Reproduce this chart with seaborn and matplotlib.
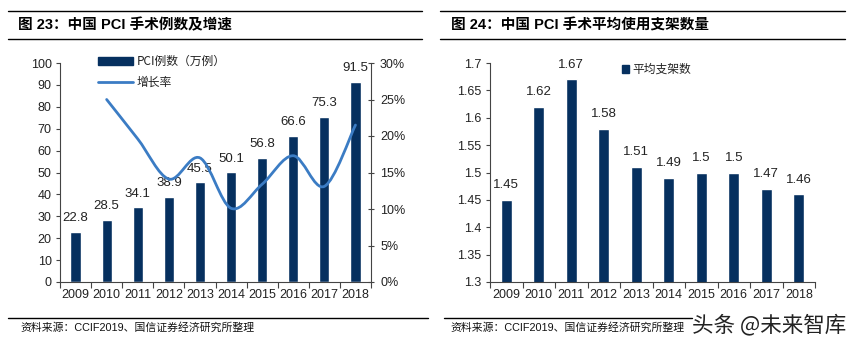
import numpy as np
import pandas as pd
import matplotlib
matplotlib.use("Agg")
import matplotlib.pyplot as plt
from matplotlib.path import Path
from matplotlib.patches import PathPatch, Patch
from matplotlib.lines import Line2D
from matplotlib.ticker import FixedLocator, FuncFormatter
import seaborn as sns

# ---- data ----
years = ["2009", "2010", "2011", "2012", "2013", "2014", "2015", "2016", "2017", "2018"]
pci_cases = [22.8, 28.5, 34.1, 38.9, 45.5, 50.1, 56.8, 66.6, 75.3, 91.5]      # 万例
growth_years = ["2010", "2011", "2012", "2013", "2014", "2015", "2016", "2017", "2018"]
growth_rate = [25.0, 19.6, 14.1, 17.0, 10.1, 13.4, 17.3, 13.1, 21.5]          # %
stents_per_case = [1.45, 1.62, 1.67, 1.58, 1.51, 1.49, 1.50, 1.50, 1.47, 1.46]

left_title = "图 23：中国 PCI 手术例数及增速"
right_title = "图 24：中国 PCI 手术平均使用支架数量"
source_text = "资料来源：CCIF2019、国信证券经济研究所整理"
bar_label = "PCI例数（万例）"
line_label = "增长率"
stent_label = "平均支架数"

BAR = "#06305f"
LINE = "#3b7cc4"
TXT = "#222222"
LAT = ["Liberation Sans", "Noto Sans CJK SC", "DejaVu Sans"]
CJK = ["Noto Sans CJK SC", "DejaVu Sans"]

sns.set_theme(style="white")
plt.rcParams["font.family"] = LAT
plt.rcParams["axes.unicode_minus"] = False

fig = plt.figure(figsize=(8.6, 3.46), dpi=100)
W, H = 860, 346


def fx(px):
    return px / W


def fy(py):
    return 1 - py / H


# ---- header / footer rules and texts ----
for x0, x1 in [(8, 422), (440, 845)]:
    for yy in (11, 39):
        fig.add_artist(Line2D([fx(x0), fx(x1)], [fy(yy), fy(yy)], color="black", lw=1.0))
fig.text(fx(18), fy(25), left_title, fontsize=10.5, fontweight="bold", va="center",
         family=LAT, color="black")
fig.text(fx(451), fy(25), right_title, fontsize=10.5, fontweight="bold", va="center",
         family=LAT, color="black")

fig.add_artist(Line2D([fx(8), fx(428)], [fy(318), fy(318)], color="black", lw=1.0))
fig.add_artist(Line2D([fx(444), fx(692)], [fy(318), fy(318)], color="black", lw=1.0))
fig.text(fx(20), fy(327), source_text, fontsize=7.8, va="center", family=LAT,
         color="#111111")
fig.text(fx(450), fy(327), source_text, fontsize=7.8, va="center", family=LAT,
         color="#111111")
fig.text(fx(692), fy(325), "头条 @未来智库", fontsize=15.5, va="center", family=CJK,
         color="#222222")


def style_cat_axis(ax):
    ax.set_xlim(-0.5, len(years) - 0.5)
    ax.xaxis.set_minor_locator(FixedLocator(np.arange(-0.5, len(years), 1.0)))
    ax.tick_params(axis="x", which="major", length=0, pad=5, labelsize=9, labelcolor=TXT)
    ax.tick_params(axis="x", which="minor", direction="out", length=4, width=0.8,
                   color="#444444", bottom=True)
    ax.tick_params(axis="y", which="major", direction="out", length=3, width=0.8,
                   color="#444444", left=True, labelsize=9, labelcolor=TXT, pad=3)
    ax.set_xlabel("")
    ax.set_ylabel("")
    for s in ("left", "bottom"):
        ax.spines[s].set_color("#444444")
        ax.spines[s].set_linewidth(0.8)
    ax.spines["top"].set_visible(False)


# ---- left chart: PCI cases + growth ----
ax1 = fig.add_axes([fx(60), fy(282), fx(371 - 60), (282 - 63) / H])
df1 = pd.DataFrame({"year": years, "cases": pci_cases})
sns.barplot(data=df1, x="year", y="cases", color=BAR, saturation=1, width=0.33, ax=ax1)
ax1.set_ylim(0, 100)
ax1.set_yticks(np.arange(0, 101, 10))
style_cat_axis(ax1)
ax1.spines["right"].set_visible(False)
for i, v in enumerate(pci_cases):
    ax1.text(i, v + 3.5, f"{v:.1f}", ha="center", va="bottom", fontsize=9.5, color=TXT)

ax2 = ax1.twinx()
ax2.set_ylim(0, 30)
ax2.set_yticks(np.arange(0, 31, 5))
ax2.yaxis.set_major_formatter(FuncFormatter(lambda v, p: f"{v:.0f}%"))
ax2.tick_params(axis="y", direction="inout", length=5, width=0.8, color="#444444",
                labelsize=9, labelcolor=TXT, pad=4, right=True)
for s in ("left", "top", "bottom"):
    ax2.spines[s].set_visible(False)
ax2.spines["right"].set_color("#444444")
ax2.spines["right"].set_linewidth(0.8)
ax2.grid(False)

# smoothed growth curve: Catmull-Rom segments drawn as cubic Beziers
gx = np.array([years.index(y) for y in growth_years], dtype=float)
gy = np.array(growth_rate, dtype=float)
pts = np.column_stack([gx, gy])
verts = [tuple(pts[0])]
codes = [Path.MOVETO]
for k in range(len(pts) - 1):
    p0 = pts[k - 1] if k > 0 else pts[k]
    p1, p2 = pts[k], pts[k + 1]
    p3 = pts[k + 2] if k + 2 < len(pts) else pts[k + 1]
    c1 = p1 + (p2 - p0) / 6.0
    c2 = p2 - (p3 - p1) / 6.0
    verts += [tuple(c1), tuple(c2), tuple(p2)]
    codes += [Path.CURVE4] * 3
ax2.add_patch(PathPatch(Path(verts, codes), facecolor="none", edgecolor=LINE, lw=2.0,
                        transform=ax2.transData, capstyle="round", joinstyle="round"))

handles = [Patch(facecolor=BAR, edgecolor=BAR), Line2D([0], [0], color=LINE, lw=2.0)]
leg = ax1.legend(handles, [bar_label, line_label], loc="upper left",
                 bbox_to_anchor=(fx(98), fy(55)), bbox_transform=fig.transFigure,
                 frameon=False, handlelength=3.0, handleheight=0.6,
                 handletextpad=0.3, labelspacing=0.7, borderaxespad=0, borderpad=0,
                 prop={"family": CJK, "size": 8.5})
for t in leg.get_texts():
    t.set_color(TXT)

# ---- right chart: average stents per case ----
ax3 = fig.add_axes([fx(490), fy(282), fx(815 - 490), (282 - 63) / H])
df2 = pd.DataFrame({"year": years, "stents": stents_per_case})
sns.barplot(data=df2, x="year", y="stents", color=BAR, saturation=1, width=0.33, ax=ax3)
ax3.set_ylim(1.3, 1.7)
ax3.set_yticks(np.round(np.arange(1.3, 1.7001, 0.05), 2))
ax3.yaxis.set_major_formatter(FuncFormatter(lambda v, p: f"{v:g}"))
style_cat_axis(ax3)
ax3.spines["right"].set_visible(False)
for i, v in enumerate(stents_per_case):
    ax3.text(i, v + 0.016, f"{v:g}", ha="center", va="bottom", fontsize=9.5, color=TXT)

leg2 = ax3.legend([Patch(facecolor=BAR, edgecolor=BAR)], [stent_label], loc="upper left",
                  bbox_to_anchor=(fx(622), fy(63)), bbox_transform=fig.transFigure,
                  frameon=False, handlelength=0.6, handleheight=0.6, handletextpad=0.3,
                  borderaxespad=0, borderpad=0, prop={"family": CJK, "size": 8.5})
for t in leg2.get_texts():
    t.set_color(TXT)

fig.savefig("out.png", dpi=100, facecolor="white")
